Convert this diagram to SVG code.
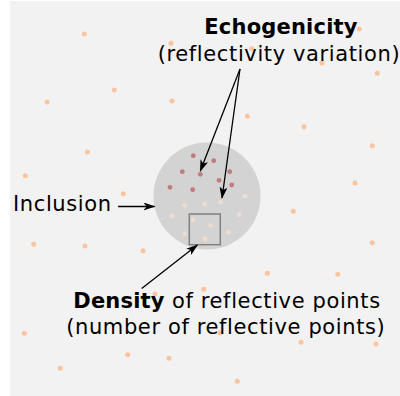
<svg xmlns="http://www.w3.org/2000/svg" width="400" height="396" viewBox="0 0 400 396">
<defs>
<style>
.t{font-family:"DejaVu Sans","Liberation Sans",sans-serif;font-size:21px;fill:#000;letter-spacing:0.62px}
.b{font-weight:bold;letter-spacing:0.2px}
.o{fill:#f9c49e}
.d{fill:#bf7c7a}
.l{fill:#eedcd0}
.c{stroke:#000;stroke-width:1.3;fill:none;marker-end:url(#ah)}
</style>
<marker id="ah" viewBox="0 0 12 8" refX="11" refY="4" markerWidth="12" markerHeight="8" markerUnits="userSpaceOnUse" orient="auto">
<path d="M0,0 L12,4 L0,8 L3,4 z" fill="#000"/>
</marker>
</defs>
<rect x="10" y="1" width="390" height="395" fill="#f2f2f2"/>
<g id="background-points">
<circle class="o" cx="84.3" cy="34" r="2.5"/>
<circle class="o" cx="171" cy="43.3" r="2.5"/>
<circle class="o" cx="114.3" cy="90" r="2.5"/>
<circle class="o" cx="47" cy="102" r="2.5"/>
<circle class="o" cx="172" cy="101" r="2.5"/>
<circle class="o" cx="87.3" cy="152" r="2.5"/>
<circle class="o" cx="25.3" cy="175.7" r="2.5"/>
<circle class="o" cx="123.3" cy="193.7" r="2.5"/>
<circle class="o" cx="359.3" cy="29" r="2.5"/>
<circle class="o" cx="251.7" cy="48.7" r="2.5"/>
<circle class="o" cx="322" cy="63" r="2.5"/>
<circle class="o" cx="377.3" cy="73.3" r="2.5"/>
<circle class="o" cx="247.3" cy="116.3" r="2.5"/>
<circle class="o" cx="304" cy="126.7" r="2.5"/>
<circle class="o" cx="372.3" cy="145.7" r="2.5"/>
<circle class="o" cx="355" cy="183" r="2.5"/>
<circle class="o" cx="33.7" cy="244.3" r="2.5"/>
<circle class="o" cx="85" cy="246" r="2.5"/>
<circle class="o" cx="143" cy="250.7" r="2.5"/>
<circle class="o" cx="155" cy="294" r="2.5"/>
<circle class="o" cx="24.3" cy="333.3" r="2.5"/>
<circle class="o" cx="127.7" cy="354.7" r="2.5"/>
<circle class="o" cx="169" cy="358.3" r="2.5"/>
<circle class="o" cx="60.3" cy="368.3" r="2.5"/>
<circle class="o" cx="293.3" cy="211.3" r="2.5"/>
<circle class="o" cx="372.3" cy="242.7" r="2.5"/>
<circle class="o" cx="267.3" cy="273.3" r="2.5"/>
<circle class="o" cx="337.7" cy="274.3" r="2.5"/>
<circle class="o" cx="203.7" cy="289.3" r="2.5"/>
<circle class="o" cx="220" cy="332.7" r="2.5"/>
<circle class="o" cx="301" cy="342.3" r="2.5"/>
<circle class="o" cx="376" cy="344" r="2.5"/>
<circle class="o" cx="237.3" cy="381.3" r="2.5"/>
</g>
<g id="inclusion">
<circle cx="207" cy="196" r="53.5" fill="#d3d3d3"/>
<circle class="d" cx="193.3" cy="155.7" r="2.4"/>
<circle class="d" cx="213.7" cy="160.7" r="2.4"/>
<circle class="d" cx="182.3" cy="171.7" r="2.4"/>
<circle class="d" cx="200.3" cy="174.3" r="2.4"/>
<circle class="d" cx="229.7" cy="171.7" r="2.4"/>
<circle class="d" cx="219" cy="180.3" r="2.4"/>
<circle class="d" cx="231.7" cy="185" r="2.4"/>
<circle class="d" cx="170" cy="187.3" r="2.4"/>
<circle class="d" cx="192.7" cy="189.7" r="2.4"/>
<circle class="l" cx="245" cy="196.3" r="2.4"/>
<circle class="l" cx="204.7" cy="204" r="2.4"/>
<circle class="l" cx="220.7" cy="202.3" r="2.4"/>
<circle class="l" cx="184.7" cy="205.3" r="2.4"/>
<circle class="l" cx="172.3" cy="216" r="2.4"/>
<circle class="l" cx="239.3" cy="214.7" r="2.4"/>
<circle class="l" cx="193" cy="219.7" r="2.4"/>
<circle class="l" cx="210.7" cy="225.3" r="2.4"/>
<circle class="l" cx="184.7" cy="233.7" r="2.4"/>
<circle class="l" cx="228.7" cy="232.3" r="2.4"/>
<circle class="l" cx="205" cy="239" r="2.4"/>
</g>
<g id="sample-window">
<rect x="189.3" y="214" width="31" height="30.7" fill="none" stroke="#808080" stroke-width="1.5"/>
</g>
<g id="connectors">
<line class="c" x1="240" y1="69" x2="200.3" y2="171"/>
<line class="c" x1="240" y1="69" x2="222" y2="198"/>
<line class="c" x1="118" y1="206.5" x2="154.5" y2="206.5"/>
<line class="c" x1="141.7" y1="288.5" x2="197.3" y2="245"/>
</g>
<g id="label-echogenicity">
<text class="t b" x="281" y="34" text-anchor="middle">Echogenicity</text>
<text class="t" x="279" y="61" text-anchor="middle">(reflectivity variation)</text>
</g>
<g id="label-inclusion">
<text class="t" x="13" y="211.3">Inclusion</text>
</g>
<g id="label-density">
<text class="t" x="227" y="307.5" text-anchor="middle"><tspan class="b">Density</tspan> of reflective points</text>
<text class="t" x="225.8" y="334" text-anchor="middle">(number of reflective points)</text>
</g>
</svg>
